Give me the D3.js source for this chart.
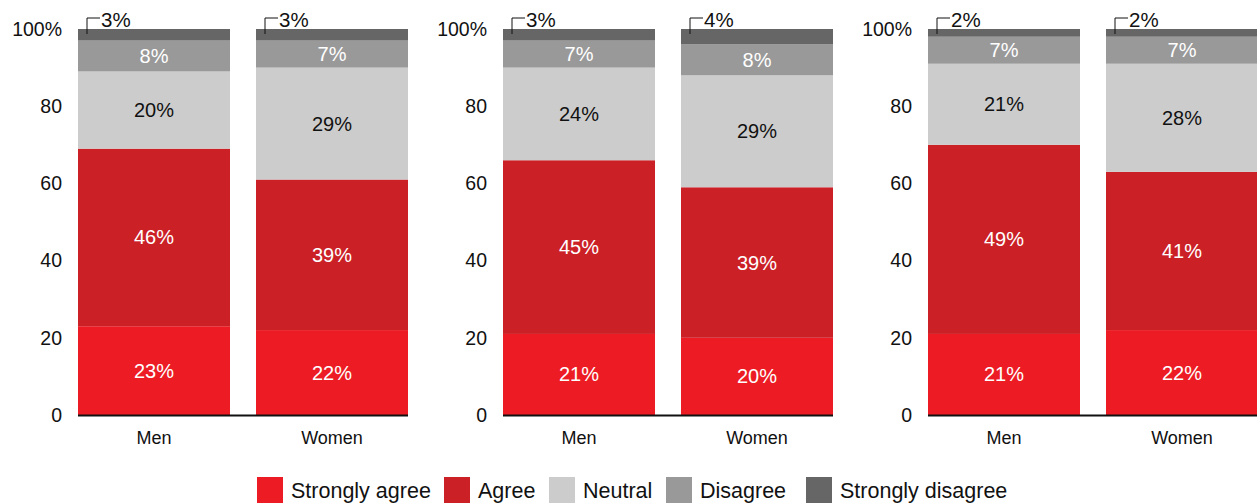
<!DOCTYPE html>
<html>
<head>
  <meta charset="utf-8">
  <style>
    body { margin: 0; background: #fff; }
    text { font-family: "Liberation Sans", Arial, sans-serif; }
    .axis .domain { display: none; }
  </style>
</head>
<body>
  <script src="https://cdn.jsdelivr.net/npm/d3@7/dist/d3.min.js"></script>
  <script>
    // data
    const categories = ["Men", "Women"];
    const series = ["Strongly agree", "Agree", "Neutral", "Disagree", "Strongly disagree"];
    const colors = ["#ed1c24", "#cc2027", "#cccccc", "#999999", "#666666"];
    const labelColors = ["#fff", "#fff", "#111", "#fff", "#111"];

    const panelA = [[23, 46, 20, 8, 3], [22, 39, 29, 7, 3]];
    const panelB = [[21, 45, 24, 7, 3], [20, 39, 29, 8, 4]];
    const panelC = [[21, 49, 21, 7, 2], [22, 41, 28, 7, 2]];
    const panels = [panelA, panelB, panelC];

    const yTicks = [0, 20, 40, 60, 80, 100];

    const W = 1257, H = 504;
    const plotTop = 29, plotBase = 415;

    const svg = d3.select("body").append("svg")
      .attr("width", W).attr("height", H);

    const panelScale = d3.scaleBand()
      .domain(d3.range(panels.length))
      .range([78, 78 + 425 * 3])
      .paddingInner(0).paddingOuter(0);

    const xScale = d3.scaleBand()
      .domain(categories)
      .range([0, 330])
      .paddingInner(26 / 178);

    const yScale = d3.scaleLinear()
      .domain([0, 100])
      .range([plotBase, plotTop]);

    const stack = d3.stack().keys(d3.range(series.length));

    panels.forEach(function (pdata, pi) {
      const g = svg.append("g")
        .attr("transform", `translate(${panelScale(pi)},0)`);

      // y axis
      const yAxis = d3.axisLeft(yScale)
        .tickValues(yTicks)
        .tickSize(0)
        .tickPadding(16)
        .tickFormat(d => d === 100 ? "100%" : d);
      g.append("g").attr("class", "axis")
        .call(yAxis)
        .selectAll("text")
        .style("font-size", "19.5px")
        .attr("fill", "#111");

      const rows = pdata.map(v => Object.assign({}, v));
      const stacked = stack(rows);

      stacked.forEach(function (layer, si) {
        layer.forEach(function (d, ci) {
          const x = xScale(categories[ci]);
          g.append("rect")
            .attr("x", x)
            .attr("width", xScale.bandwidth())
            .attr("y", yScale(d[1]))
            .attr("height", yScale(d[0]) - yScale(d[1]))
            .attr("fill", colors[si]);

          const val = d[1] - d[0];
          if (si < series.length - 1) {
            g.append("text")
              .attr("x", x + xScale.bandwidth() / 2)
              .attr("y", (yScale(d[0]) + yScale(d[1])) / 2)
              .attr("dy", "0.35em")
              .attr("text-anchor", "middle")
              .style("font-size", "20px")
              .attr("fill", labelColors[si])
              .text(val + "%");
          } else {
            // bracket label above the bar
            g.append("path")
              .attr("d", `M${x + 9},${yScale(d[1]) + 5}V18H${x + 22}`)
              .attr("fill", "none")
              .attr("stroke", "#111")
              .attr("stroke-width", 1);
            g.append("text")
              .attr("x", x + 23)
              .attr("y", 26.5)
              .style("font-size", "20.5px")
              .attr("fill", "#111")
              .text(val + "%");
          }
        });
      });

      // x axis baseline
      g.append("line")
        .attr("x1", 0).attr("x2", 330)
        .attr("y1", plotBase + 0.5).attr("y2", plotBase + 0.5)
        .attr("stroke", "#111").attr("stroke-width", 2);

      const xAxis = d3.axisBottom(xScale).tickSize(0).tickPadding(16);
      g.append("g").attr("class", "axis")
        .attr("transform", `translate(0,${plotBase})`)
        .call(xAxis)
        .selectAll("text")
        .style("font-size", "18px")
        .attr("fill", "#111");
    });

    // legend
    const legendX = [257, 444, 549, 666, 806];
    const legend = svg.append("g");
    series.forEach(function (s, i) {
      legend.append("rect")
        .attr("x", legendX[i]).attr("y", 477)
        .attr("width", 26).attr("height", 26)
        .attr("fill", colors[i]);
      legend.append("text")
        .attr("x", legendX[i] + 34).attr("y", 490)
        .attr("dy", "0.35em")
        .style("font-size", "21.5px")
        .attr("fill", "#111")
        .text(s);
    });
  </script>
</body>
</html>
